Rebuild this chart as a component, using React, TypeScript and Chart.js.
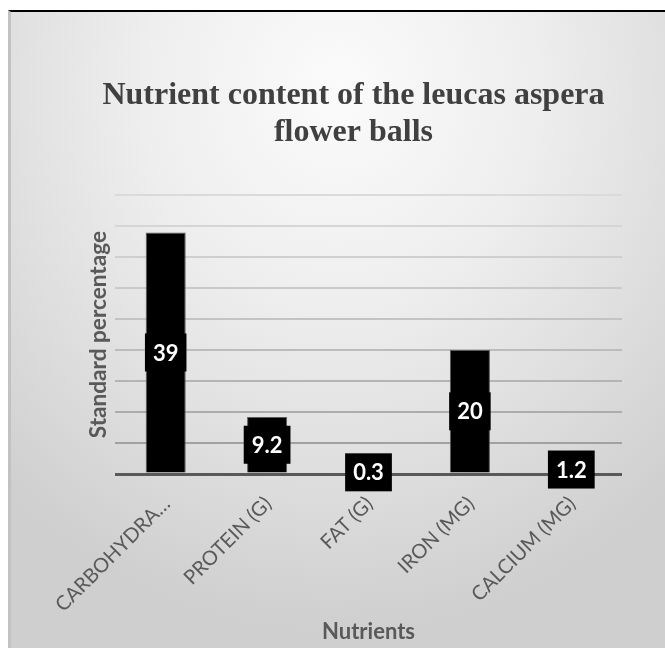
import React, { useEffect, useRef } from 'react';
import { Chart, registerables } from 'chart.js';

Chart.register(...registerables);

const categories = ['CARBOHYDRA…', 'PROTEIN (G)', 'FAT (G)', 'IRON (MG)', 'CALCIUM (MG)'];
const values = [39, 9.2, 0.3, 20, 1.2];
const yMin = 0;
const yMax = 45;
const yStep = 5;
const titleLines = ['Nutrient content of the leucas aspera', 'flower balls'];
const xTitle = 'Nutrients';
const yTitle = 'Standard percentage';

const gridColor = (v: number) => {
  if (v === 0) return '#595959';
  const t = v / yMax; // 0..1
  const dark = 140;
  const light = 218;
  const c = Math.round(dark + (light - dark) * Math.min(1, Math.pow(t, 0.6)));
  return `rgb(${c},${c},${c})`;
};

const labelPlugin = {
  id: 'boxLabels',
  afterDatasetsDraw(chart: any) {
    const ctx = chart.ctx;
    const meta = chart.getDatasetMeta(0);
    ctx.save();
    ctx.font = 'bold 22px Lato';
    ctx.textAlign = 'center';
    ctx.textBaseline = 'middle';
    meta.data.forEach((el: any, i: number) => {
      const { x, y, base } = el.getProps(['x', 'y', 'base'], true);
      const cy = (y + base) / 2;
      const text = String(values[i]);
      const w = ctx.measureText(text).width + 16;
      const h = 38;
      ctx.fillStyle = '#000';
      ctx.fillRect(x - w / 2, cy - h / 2, w, h);
      ctx.fillStyle = '#fff';
      ctx.fillText(text, x, cy + 1);
    });
    ctx.restore();
  },
};

export default function App() {
  const ref = useRef<HTMLCanvasElement | null>(null);
  useEffect(() => {
    if (!ref.current) return;
    const chart = new Chart(ref.current, {
      type: 'bar',
      data: {
        labels: categories,
        datasets: [
          {
            data: values,
            backgroundColor: '#000000',
            borderColor: '#5a5a5a',
            borderWidth: 1,
            barPercentage: 0.395,
            categoryPercentage: 1,
          },
        ],
      },
      options: {
        animation: false,
        responsive: false,
        devicePixelRatio: 1,
        layout: { padding: { left: 74, right: 43, top: 0, bottom: 0 } },
        plugins: {
          legend: { display: false },
          tooltip: { enabled: false },
          title: {
            display: true,
            text: titleLines,
            color: '#404040',
            font: { family: "'Liberation Serif', 'Times New Roman', serif", size: 32, weight: 'bold', lineHeight: 1.16 },
            padding: { top: 65, bottom: 44 },
          },
        },
        scales: {
          x: {
            grid: { display: false, drawTicks: false },
            border: { display: false },
            ticks: {
              color: '#595959',
              font: { family: 'Lato', size: 20 },
              minRotation: 45,
              maxRotation: 45,
              autoSkip: false,
              padding: 18,
              labelOffset: 1,
            },
            title: {
              display: true,
              text: xTitle,
              color: '#595959',
              font: { family: 'Lato', size: 22, weight: 'bold', lineHeight: 1.2 },
              padding: { top: 0, bottom: 3 },
            },
            afterFit: (s: any) => {
              s.height = 174;
            },
          },
          y: {
            min: yMin,
            max: yMax,
            ticks: { display: false, stepSize: yStep },
            border: { display: false },
            grid: {
              drawTicks: false,
              color: (c: any) => gridColor(c.tick ? c.tick.value : 0),
              lineWidth: (c: any) => (c.tick && c.tick.value === 0 ? 3 : 2),
            },
            title: {
              display: true,
              text: yTitle,
              color: '#595959',
              font: { family: 'Lato', size: 22.6, weight: 'bold', lineHeight: 1.2 },
              padding: { top: 0, bottom: 4 },
            },
            afterFit: (s: any) => {
              s.width = 30;
            },
          },
        },
      },
      plugins: [labelPlugin],
    });
    return () => chart.destroy();
  }, []);

  return (
    <div
      style={{
        position: 'fixed',
        left: 8,
        top: 10,
        width: 654,
        height: 636,
        borderTop: '2px solid #000',
        borderLeft: '3px solid #c2c2c2',
        background:
          'radial-gradient(ellipse 75% 85% at 50% 12%, #fbfbfb 0%, #eeeeee 40%, #dcdcdc 75%, #cfcfcf 100%)',
      }}
    >
      <canvas ref={ref} width={654} height={636} style={{ display: 'block' }} />
    </div>
  );
}
